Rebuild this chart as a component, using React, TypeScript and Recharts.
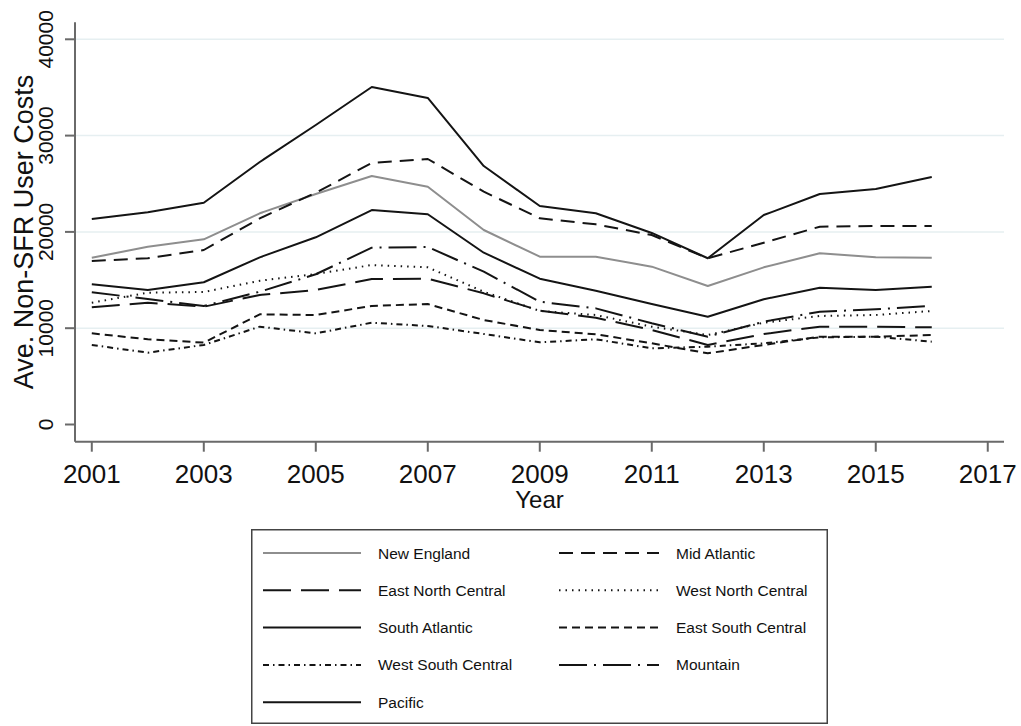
import React from 'react';
import { LineChart, Line, XAxis, YAxis, CartesianGrid, Legend } from 'recharts';

const YEARS = [2001, 2002, 2003, 2004, 2005, 2006, 2007, 2008, 2009, 2010, 2011, 2012, 2013, 2014, 2015, 2016];
const X_TICKS = [2001, 2003, 2005, 2007, 2009, 2011, 2013, 2015, 2017];
const Y_TICKS = [0, 10000, 20000, 30000, 40000];
const GRID_VALUES = [10000, 20000, 30000, 40000];

const NEW_ENGLAND = [17320, 18460, 19230, 21930, 23940, 25800, 24690, 20200, 17430, 17430, 16390, 14380, 16320, 17780, 17360, 17320];
const MID_ATLANTIC = [16980, 17260, 18120, 21410, 24070, 27160, 27570, 24180, 21410, 20790, 19680, 17260, 18880, 20540, 20610, 20610];
const EAST_NORTH_CENTRAL = [12170, 12650, 12230, 13450, 13970, 15110, 15140, 13620, 11820, 11090, 9810, 8260, 9400, 10160, 10160, 10090];
const WEST_NORTH_CENTRAL = [12650, 13690, 13760, 14930, 15630, 16560, 16320, 13790, 11790, 11370, 10160, 9290, 10570, 11270, 11370, 11790];
const SOUTH_ATLANTIC = [14560, 13970, 14770, 17360, 19440, 22270, 21830, 17840, 15140, 13890, 12510, 11190, 13000, 14210, 13970, 14310];
const EAST_SOUTH_CENTRAL = [9470, 8850, 8500, 11440, 11370, 12310, 12510, 10850, 9810, 9370, 8430, 7390, 8260, 9120, 9120, 9290];
const WEST_SOUTH_CENTRAL = [8260, 7460, 8260, 10160, 9470, 10570, 10230, 9400, 8530, 8850, 7910, 8080, 8430, 9050, 9120, 8600];
const MOUNTAIN = [13730, 13030, 12310, 13790, 15600, 18360, 18430, 15870, 12750, 12060, 10510, 9120, 10680, 11710, 11960, 12310];
const PACIFIC = [21340, 22040, 23030, 27260, 31100, 35050, 33910, 26840, 22690, 21930, 19890, 17260, 21750, 23930, 24450, 25700];

const SERIES = [
  { key: 'ne', name: 'New England', values: NEW_ENGLAND, color: '#8e8e8e', dash: undefined },
  { key: 'ma', name: 'Mid Atlantic', values: MID_ATLANTIC, color: '#141414', dash: '14 8' },
  { key: 'enc', name: 'East North Central', values: EAST_NORTH_CENTRAL, color: '#141414', dash: '28 10' },
  { key: 'wnc', name: 'West North Central', values: WEST_NORTH_CENTRAL, color: '#141414', dash: '1.5 5' },
  { key: 'sa', name: 'South Atlantic', values: SOUTH_ATLANTIC, color: '#141414', dash: undefined },
  { key: 'esc', name: 'East South Central', values: EAST_SOUTH_CENTRAL, color: '#141414', dash: '8 5' },
  { key: 'wsc', name: 'West South Central', values: WEST_SOUTH_CENTRAL, color: '#141414', dash: '6 4 1.5 4' },
  { key: 'mtn', name: 'Mountain', values: MOUNTAIN, color: '#141414', dash: '28 7 2 7' },
  { key: 'pac', name: 'Pacific', values: PACIFIC, color: '#141414', dash: undefined },
];

const data = YEARS.map((year, i) => {
  const row: Record<string, number> = { year };
  SERIES.forEach((s) => {
    row[s.key] = s.values[i];
  });
  return row;
});

const FONT = '"Liberation Sans", Arial, sans-serif';
const AXIS_COLOR = '#6a6a6a';
const TEXT_COLOR = '#111';

const YTick = (props: any) => {
  const { x, y, payload } = props;
  return (
    <text
      x={x}
      y={y}
      transform={`rotate(-90, ${x}, ${y})`}
      textAnchor="middle"
      fontFamily={FONT}
      fontSize={21}
      fill={TEXT_COLOR}
    >
      {payload.value}
    </text>
  );
};

const XTick = (props: any) => {
  const { x, y, payload } = props;
  return (
    <text x={x} y={y + 27.6} textAnchor="middle" fontFamily={FONT} fontSize={26} fill={TEXT_COLOR}>
      {payload.value}
    </text>
  );
};

const XLabel = (props: any) => {
  const vb = props.viewBox;
  return (
    <text
      x={vb.x + vb.width / 2}
      y={vb.y + 66.6}
      textAnchor="middle"
      fontFamily={FONT}
      fontSize={24}
      fill={TEXT_COLOR}
    >
      Year
    </text>
  );
};

const YLabel = (props: any) => {
  const vb = props.viewBox;
  const cx = 25.3;
  const cy = vb.y + vb.height / 2;
  return (
    <text
      x={cx}
      y={cy}
      transform={`rotate(-90, ${cx}, ${cy})`}
      textAnchor="middle"
      fontFamily={FONT}
      fontSize={27}
      fill={TEXT_COLOR}
    >
      Ave. Non-SFR User Costs
    </text>
  );
};

const LegendBox = () => {
  const W = 577;
  const H = 195;
  const rowY = [24, 61.3, 98.6, 135.9, 173.2];
  return (
    <svg width={W} height={H} style={{ display: 'block' }}>
      <rect x={0.75} y={0.75} width={W - 1.5} height={H - 1.5} fill="#fff" stroke="#444" strokeWidth={1.5} />
      {SERIES.map((s, i) => {
        const col = i % 2;
        const row = Math.floor(i / 2);
        const y = rowY[row];
        const x0 = col === 0 ? 12 : 308;
        const x1 = col === 0 ? 110 : 408;
        const tx = col === 0 ? 127 : 425;
        return (
          <g key={s.key}>
            <line x1={x0} y1={y} x2={x1} y2={y} stroke={s.color} strokeWidth={2} strokeDasharray={s.dash} />
            <text x={tx} y={y} dominantBaseline="central" fontFamily={FONT} fontSize={15.5} fill={TEXT_COLOR}>
              {s.name}
            </text>
          </g>
        );
      })}
    </svg>
  );
};

export default function App() {
  return (
    <div style={{ position: 'fixed', left: 8, top: 8, width: 1013, height: 718, background: '#fff' }}>
      <LineChart
        width={1013}
        height={718}
        data={data}
        margin={{ top: 14.3, right: 17, left: 7, bottom: 224.3 }}
      >
        <CartesianGrid
          vertical={false}
          horizontalValues={GRID_VALUES}
          stroke="#e6eff1"
          strokeWidth={1.5}
        />
        <XAxis
          dataKey="year"
          type="number"
          domain={[2000.7, 2017.29]}
          ticks={X_TICKS}
          allowDataOverflow
          height={60}
          tickSize={10}
          tickMargin={4}
          stroke={AXIS_COLOR}
          strokeWidth={2}
          tick={<XTick />}
          label={<XLabel />}
        />
        <YAxis
          type="number"
          domain={[-1786, 41765]}
          ticks={Y_TICKS}
          allowDataOverflow
          width={60}
          tickSize={10}
          tickMargin={12}
          stroke={AXIS_COLOR}
          strokeWidth={2}
          tick={<YTick />}
          label={<YLabel />}
        />
        <Legend
          layout="horizontal"
          verticalAlign="middle"
          align="center"
          wrapperStyle={{ left: 243, top: 521, width: 577, height: 195 }}
          content={() => <LegendBox />}
        />
        {SERIES.map((s) => (
          <Line
            key={s.key}
            dataKey={s.key}
            name={s.name}
            stroke={s.color}
            strokeWidth={2}
            strokeDasharray={s.dash}
            dot={false}
            activeDot={false}
            isAnimationActive={false}
            strokeLinejoin="round"
          />
        ))}
      </LineChart>
    </div>
  );
}
